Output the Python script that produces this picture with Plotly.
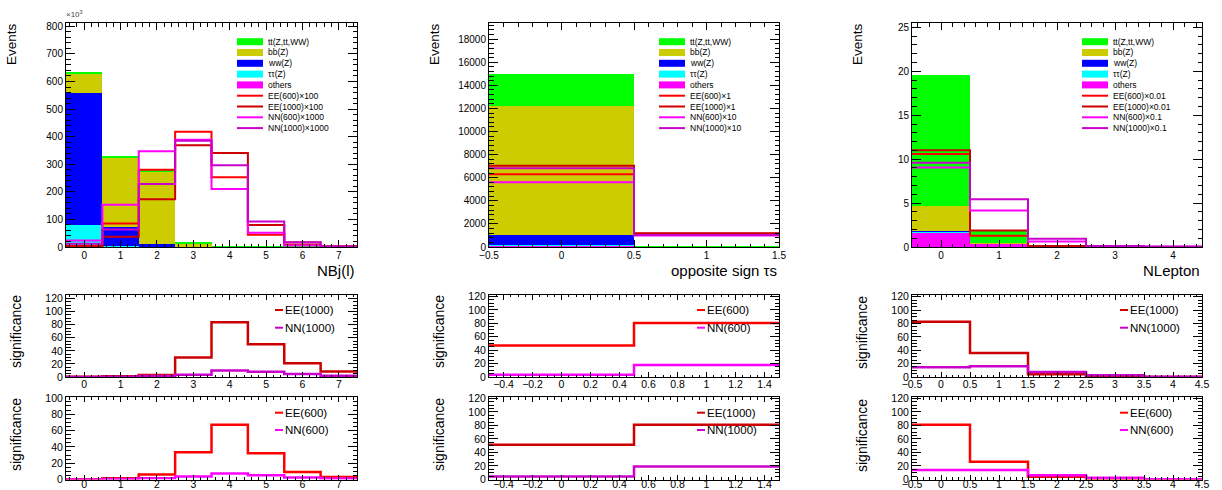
import plotly.graph_objects as go

W, H = 1222, 490

# ---------------- data ----------------
bkg_names = ["others", "ττ(Z)", "ww(Z)", "bb(Z)", "tt(Z,tt,WW)"]
bkg_colors = ["#ff00ff", "#00ffff", "#0000ff", "#cccc00", "#00ff00"]
sig_names = ["EE(600)", "EE(1000)", "NN(600)", "NN(1000)"]
sig_colors = ["#ff0000", "#cc0000", "#ff00ff", "#cc00cc"]

# NBj(l)  (units of 10^3 events)
nbj_x = [0, 1, 2, 3, 4, 5, 6, 7]
nbj_others = [7, 1, 0.5, 0, 0, 0, 0, 0]
nbj_tautau = [73, 1, 0.5, 0, 0, 0, 0, 0]
nbj_ww = [477, 72, 10, 1, 0, 0, 0, 0]
nbj_bb = [71, 248, 260, 12, 0.5, 0, 0, 0]
nbj_tt = [3, 8, 8, 3, 1.5, 0.5, 0.2, 0]
nbj_EE600 = [4, 85, 280, 418, 253, 44, 7, 2]
nbj_EE1000 = [2, 37, 173, 369, 341, 80, 16, 3]
nbj_NN600 = [24, 153, 347, 389, 210, 52, 5, 1]
nbj_NN1000 = [12, 63, 228, 385, 296, 92, 17, 2]
nbj_scales = ["×100", "×100", "×1000", "×1000"]
sig_nbj_EE1000 = [0.3, 1, 3, 30, 84, 50, 21, 8.5]
sig_nbj_NN1000 = [0.1, 0.5, 1.5, 3.6, 10, 8, 4.6, 2]
sig_nbj_EE600 = [0.3, 1.6, 6, 33.5, 67, 32, 9.3, 3.2]
sig_nbj_NN600 = [0.1, 0.5, 1.5, 3.6, 7.3, 5.3, 2.4, 1.2]

# opposite sign taus
os_x = [0, 1]
os_others = [150, 5]
os_tautau = [20, 2]
os_ww = [870, 5]
os_bb = [11160, 10]
os_tt = [2800, 20]
os_EE600 = [6290, 1150]
os_EE1000 = [7040, 1190]
os_NN600 = [5600, 1000]
os_NN1000 = [6810, 1050]
os_scales = ["×1", "×1", "×10", "×10"]
sig_os_EE600 = [47, 80.5]
sig_os_NN600 = [3.5, 17.8]
sig_os_EE1000 = [51.5, 81]
sig_os_NN1000 = [4.5, 19.3]

# NLepton
nl_x = [0, 1, 2, 3, 4]
nl_others = [1.7, 0.4, 0.02, 0, 0]
nl_tautau = [0.05, 0, 0, 0, 0]
nl_ww = [0.05, 0, 0, 0, 0]
nl_bb = [2.9, 0.05, 0, 0, 0]
nl_tt = [14.9, 1.5, 0.03, 0, 0]
nl_EE600 = [10.6, 1.28, 0.05, 0.02, 0.01]
nl_EE1000 = [11.0, 1.88, 0.1, 0.03, 0.01]
nl_NN600 = [9.05, 4.15, 0.64, 0.1, 0.03]
nl_NN1000 = [9.6, 5.45, 0.94, 0.12, 0.05]
nl_scales = ["×0.01", "×0.01", "×0.1", "×0.1"]
sig_nl_EE1000 = [82.7, 35.8, 4, 0.5, 0.1]
sig_nl_NN1000 = [14.6, 16, 7.5, 2.5, 0.3]
sig_nl_EE600 = [80.8, 26.3, 4, 1, 0.1]
sig_nl_NN600 = [13.9, 13.9, 6.4, 2.5, 0.3]

columns = [
    dict(x=nbj_x, bkg=[nbj_others, nbj_tautau, nbj_ww, nbj_bb, nbj_tt],
         sig=[nbj_EE600, nbj_EE1000, nbj_NN600, nbj_NN1000], scales=nbj_scales,
         title="NBj(l)", xr=[-0.5, 7.5], yr=[0, 812], ydt=100, ymin=20, xdt=1, xmin=0.2, x0=0,
         s1=[("EE(1000)", sig_nbj_EE1000, 1), ("NN(1000)", sig_nbj_NN1000, 3)], s1r=[0, 126],
         s2=[("EE(600)", sig_nbj_EE600, 0), ("NN(600)", sig_nbj_NN600, 2)], s2r=[0, 101],
         sxdt=1, sxmin=0.2, sx0=0, px=(66, 357)),
    dict(x=os_x, bkg=[os_others, os_tautau, os_ww, os_bb, os_tt],
         sig=[os_EE600, os_EE1000, os_NN600, os_NN1000], scales=os_scales,
         title="opposite sign τs", xr=[-0.5, 1.5], yr=[0, 19400], ydt=2000, ymin=400, xdt=0.5, xmin=0.1, x0=-0.5,
         s1=[("EE(600)", sig_os_EE600, 0), ("NN(600)", sig_os_NN600, 2)], s1r=[0, 122.5],
         s2=[("EE(1000)", sig_os_EE1000, 1), ("NN(1000)", sig_os_NN1000, 3)], s2r=[0, 122],
         sxdt=0.2, sxmin=0.05, sx0=-0.4, px=(489, 779)),
    dict(x=nl_x, bkg=[nl_others, nl_tautau, nl_ww, nl_bb, nl_tt],
         sig=[nl_EE600, nl_EE1000, nl_NN600, nl_NN1000], scales=nl_scales,
         title="NLepton", xr=[-0.5, 4.5], yr=[0, 25.5], ydt=5, ymin=1, xdt=1, xmin=0.2, x0=0,
         s1=[("EE(1000)", sig_nl_EE1000, 1), ("NN(1000)", sig_nl_NN1000, 3)], s1r=[0, 123],
         s2=[("EE(600)", sig_nl_EE600, 0), ("NN(600)", sig_nl_NN600, 2)], s2r=[0, 122],
         sxdt=0.5, sxmin=0.1, sx0=-0.5, px=(912, 1202)),
]

FONT = "Liberation Sans, Arial, sans-serif"
rows_px = [(23, 247), (294.7, 377), (397, 479.5)]


def px_x(x):
    return x / W


def px_y(y):
    return 1 - y / H


def step(xc, vals):
    xs = [c - 0.5 for c in xc] + [xc[-1] + 0.5]
    ys = list(vals) + [vals[-1]]
    return xs, ys


fig = go.Figure()
layout = {}
shapes = []
annotations = []

for c, col in enumerate(columns):
    for r in range(3):
        idx = c * 3 + r + 1
        xa = "x" if idx == 1 else f"x{idx}"
        ya = "y" if idx == 1 else f"y{idx}"
        xkey = "xaxis" if idx == 1 else f"xaxis{idx}"
        ykey = "yaxis" if idx == 1 else f"yaxis{idx}"
        x0p, x1p = col["px"]
        y0p, y1p = rows_px[r]
        if r == 0:
            for vals, name, colr in zip(col["bkg"], bkg_names, bkg_colors):
                fig.add_trace(go.Bar(x=col["x"], y=vals, width=1, marker_color=colr,
                                     marker_line_width=0, name=name, showlegend=False,
                                     xaxis=xa, yaxis=ya, hoverinfo="skip"))
            for vals, name, colr in zip(col["sig"], sig_names, sig_colors):
                xs, ys = step(col["x"], vals)
                fig.add_trace(go.Scatter(x=xs, y=ys, mode="lines", line_shape="hv",
                                         line=dict(color=colr, width=2), name=name,
                                         showlegend=False, xaxis=xa, yaxis=ya))
            xdt, xmin, x0tick = col["xdt"], col["xmin"], col["x0"]
            yr, ydt, ymin = col["yr"], col["ydt"], col["ymin"]
            tickfont = 10
            xlen, ylen = 7, 9
            xstand = -1
        else:
            entries = col["s1"] if r == 1 else col["s2"]
            for name, vals, ci in entries:
                xs, ys = step(col["x"], vals)
                fig.add_trace(go.Scatter(x=xs, y=ys, mode="lines", line_shape="hv",
                                         line=dict(color=sig_colors[ci], width=2.5), name=name,
                                         showlegend=False, xaxis=xa, yaxis=ya))
            xdt, xmin, x0tick = col["sxdt"], col["sxmin"], col["sx0"]
            yr = col["s1r"] if r == 1 else col["s2r"]
            ydt, ymin = 20, 5
            tickfont = 10.5
            xlen, ylen = 5, 9
            xstand = -3 if r == 1 else -5
        layout[xkey] = dict(domain=[px_x(x0p), px_x(x1p)], range=col["xr"], anchor=ya,
                            showline=True, linecolor="black", linewidth=1, mirror="ticks",
                            ticks="inside", ticklen=xlen, tickcolor="black", tickwidth=1,
                            tick0=x0tick, dtick=xdt, showgrid=False, zeroline=False,
                            automargin=False, ticklabelstandoff=xstand,
                            tickfont=dict(size=tickfont, family=FONT, color="black"),
                            minor=dict(dtick=xmin, ticklen=xlen / 2, tickcolor="black",
                                       ticks="inside", showgrid=False))
        layout[ykey] = dict(domain=[px_y(y1p), px_y(y0p)], range=yr, anchor=xa,
                            showline=True, linecolor="black", linewidth=1, mirror="ticks",
                            ticks="inside", ticklen=ylen, tickcolor="black", tickwidth=1,
                            tick0=0, dtick=ydt, showgrid=False, zeroline=False,
                            automargin=False, exponentformat="none", tickformat="d",
                            tickfont=dict(size=tickfont, family=FONT, color="black"),
                            minor=dict(dtick=ymin, ticklen=ylen / 2, tickcolor="black",
                                       ticks="inside", showgrid=False))

    x0p, x1p = col["px"]
    # x-axis title of main panel
    annotations.append(dict(text=col["title"], x=px_x(x1p), y=px_y(260), xref="paper", yref="paper",
                            xanchor="right", yanchor="top", showarrow=False,
                            font=dict(size=15, family=FONT, color="black")))
    # y titles
    annotations.append(dict(text="Events", x=px_x(x0p - 54), y=px_y(21),
                            xref="paper", yref="paper", xanchor="center", yanchor="top",
                            textangle=-90, showarrow=False,
                            font=dict(size=13.5, family=FONT, color="black")))
    for yc in (332, 435):
        annotations.append(dict(text="significance", x=px_x(x0p - 50), y=px_y(yc),
                                xref="paper", yref="paper", xanchor="center", yanchor="middle",
                                textangle=-90, showarrow=False,
                                font=dict(size=14, family=FONT, color="black")))
    # main legend
    lx0 = x1p - 120
    rows = [(n, bkg_colors[i], "box") for i, n in list(enumerate(bkg_names))[::-1]]
    rows += [(n + s, sig_colors[i], "line") for i, (n, s) in enumerate(zip(sig_names, col["scales"]))]
    for k, (txt, colr, kind) in enumerate(rows):
        yy = 41.7 + k * 10.8
        if kind == "box":
            shapes.append(dict(type="rect", xref="paper", yref="paper",
                               x0=px_x(lx0), x1=px_x(lx0 + 26), y0=px_y(yy + 3.5), y1=px_y(yy - 3.5),
                               fillcolor=colr, line=dict(width=0)))
        else:
            shapes.append(dict(type="line", xref="paper", yref="paper",
                               x0=px_x(lx0), x1=px_x(lx0 + 26), y0=px_y(yy), y1=px_y(yy),
                               line=dict(color=colr, width=2)))
        annotations.append(dict(text=txt, x=px_x(lx0 + 29), y=px_y(yy), xref="paper", yref="paper",
                                xanchor="left", yanchor="middle", showarrow=False,
                                font=dict(size=8.5, family=FONT, color="black")))
    # significance legends
    for r, yys in ((1, (310, 327.7)), (2, (412.7, 430))):
        entries = col["s1"] if r == 1 else col["s2"]
        sx = x1p - 82
        for (name, vals, ci), yy in zip(entries, yys):
            shapes.append(dict(type="line", xref="paper", yref="paper",
                               x0=px_x(sx), x1=px_x(sx + 8), y0=px_y(yy), y1=px_y(yy),
                               line=dict(color=sig_colors[ci], width=2)))
            annotations.append(dict(text=name, x=px_x(sx + 8), y=px_y(yy), xref="paper", yref="paper",
                                    xanchor="left", yanchor="middle", showarrow=False,
                                    font=dict(size=11.5, family=FONT, color="black")))

annotations.append(dict(text="×10<sup>3</sup>", x=px_x(64), y=px_y(21), xref="paper", yref="paper",
                        xanchor="left", yanchor="bottom", showarrow=False,
                        font=dict(size=8, family=FONT, color="#444")))

fig.update_layout(**layout)
fig.update_layout(width=W, height=H, margin=dict(l=0, r=0, t=0, b=0, autoexpand=False),
                  paper_bgcolor="white", plot_bgcolor="white",
                  barmode="stack", bargap=0, showlegend=False,
                  shapes=shapes, annotations=annotations,
                  font=dict(family=FONT, color="black"))

fig.write_html("out.html", config={"responsive": False, "displayModeBar": False},
               post_script="document.body.style.margin='0px';document.body.style.overflow='hidden';")
